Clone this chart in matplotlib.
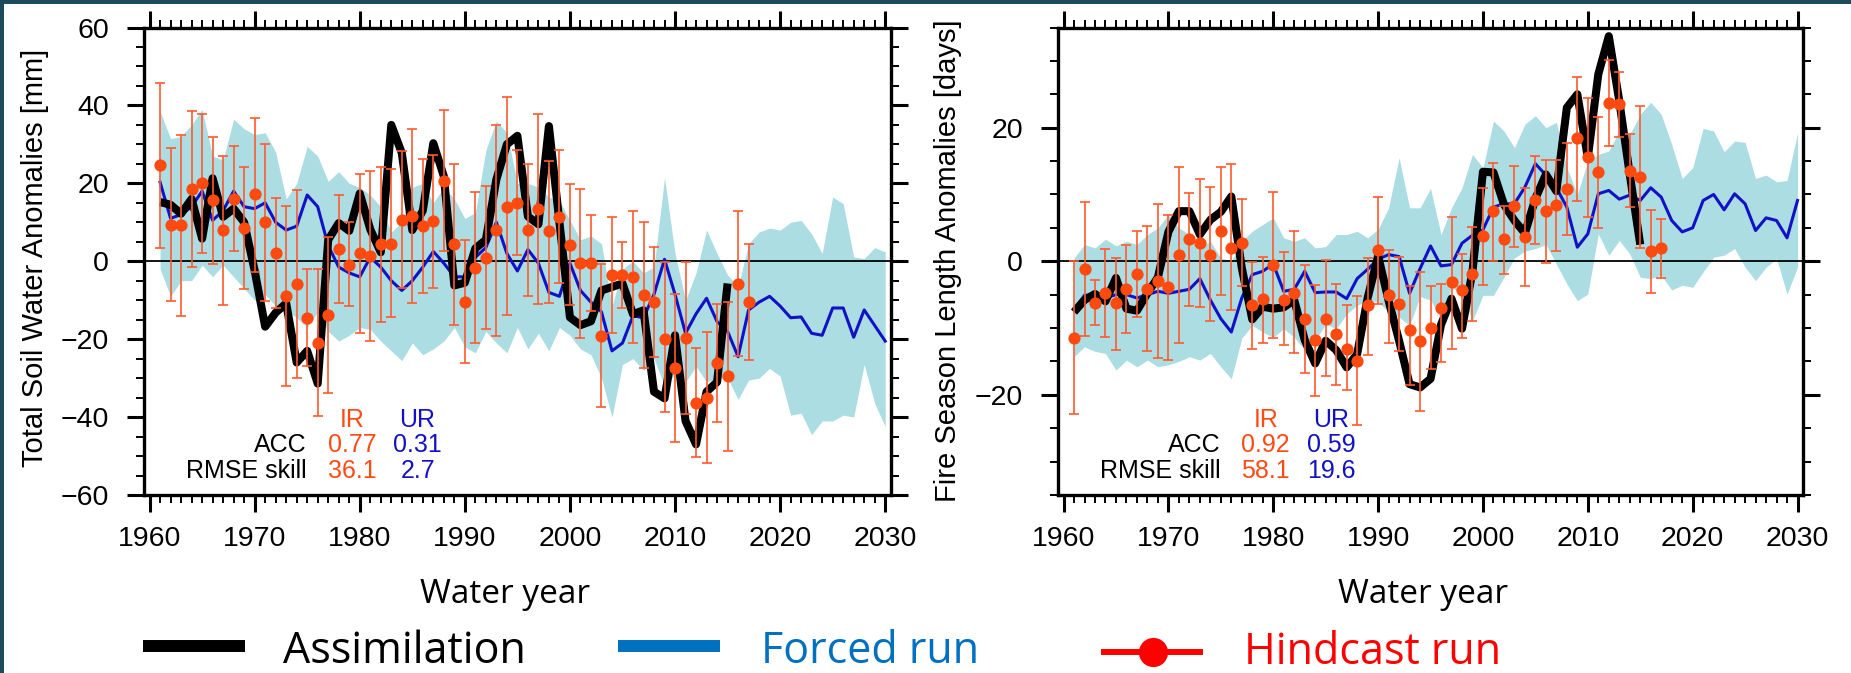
import numpy as np
import matplotlib
matplotlib.use("Agg")
import matplotlib.pyplot as plt
from matplotlib.lines import Line2D
from matplotlib.patches import Rectangle
from matplotlib.ticker import MultipleLocator

# ---------------- data ----------------
years_all = list(range(1961, 2031))      # forced run + spread
years_assim = list(range(1961, 2016))    # assimilation
years_hind = list(range(1961, 2018))     # hindcast

# Left panel: Total soil water anomalies [mm]
sw_assim = [15.2, 14.5, 12.2, 16.0, 5.8, 21.3, 11.4, 13.5, 10.0, -2.4,
            -16.8, -13.2, -10.8, -26.0, -23.0, -31.4, 5.5, 9.8, 7.8, 17.4,
            8.2, 2.3, 35.0, 27.8, 8.0, 13.0, 30.3, 21.8, -6.2, -5.5,
            3.3, 5.5, 21.0, 30.0, 32.2, 11.5, 9.5, 34.7, 10.0, -14.4,
            -16.4, -15.4, -7.5, -6.6, -5.7, -13.6, -12.6, -33.5, -35.2, -19.0,
            -41.0, -47.0, -33.5, -31.0, -5.7]
sw_hind = [24.6, 9.2, 9.2, 18.5, 20.0, 15.6, 7.9, 15.9, 8.5, 17.3,
           10.2, 2.1, -9.0, -5.8, -14.5, -20.9, -13.8, 3.2, -1.0, 2.0,
           1.4, 4.3, 4.5, 10.7, 11.5, 9.0, 10.3, 20.7, 4.3, -10.4,
           -1.8, 0.9, 7.9, 13.9, 15.0, 8.1, 13.5, 7.7, 11.4, 4.2,
           -0.5, -0.4, -19.2, -3.6, -3.6, -4.0, -8.7, -10.4, -20.0, -27.3,
           -19.8, -36.3, -35.0, -26.2, -29.5, -5.9, -10.4]
sw_hind_hi = [45.8, 29.1, 32.5, 38.5, 37.8, 31.8, 27.1, 29.5, 24.2, 36.8,
              30.2, 16.2, 14.1, 18.2, -2.1, -2.0, 6.2, 17.1, 10.1, 22.5,
              23.2, 24.2, 23.8, 28.3, 34.0, 26.3, 27.4, 38.9, 25.0, 5.4,
              17.8, 19.2, 35.0, 42.1, 28.5, 24.9, 37.7, 25.7, 28.5, 19.8,
              18.5, 12.0, -0.6, 11.4, 5.0, 12.8, 10.1, 3.7, -0.2, -8.5,
              -0.3, -22.2, -18.1, -11.1, -10.4, 12.8, 4.4]
sw_hind_lo = [3.5, -10.2, -14.1, -1.5, 2.0, -0.6, -11.3, 2.6, -7.1, -2.7,
              -10.3, -11.9, -32.1, -29.9, -26.9, -39.7, -33.9, -10.6, -11.5, -18.4,
              -20.4, -15.6, -14.4, -6.8, -10.7, -8.1, -6.8, 2.6, -16.4, -26.0,
              -21.1, -17.5, -19.1, -13.9, 1.5, -8.8, -10.9, -10.7, -5.6, -11.3,
              -19.6, -12.7, -37.5, -18.4, -12.0, -20.9, -27.5, -24.5, -38.8, -46.3,
              -39.2, -50.3, -51.9, -41.2, -48.6, -24.4, -25.4]
sw_forced = [20.3, 11.0, 12.0, 14.0, 18.0, 10.5, 13.0, 18.0, 14.0, 13.5,
             15.0, 10.0, 8.0, 9.0, 17.0, 14.0, 4.0, -1.5, -3.0, -4.0,
             1.0, -1.5, -5.0, -7.5, -5.0, -1.5, 2.5, -0.5, -4.0, -4.0,
             1.0, 3.5, 10.0, 2.0, -2.5, 3.0, -0.5, -8.0, -9.0, -0.5,
             -7.5, -10.5, -13.0, -23.0, -21.0, -14.0, -14.5, -8.5, 0.5, -8.5,
             -18.5, -13.5, -9.5, -15.5, -18.0, -24.5, -12.5, -10.5, -9.0, -11.5,
             -14.5, -14.3, -18.5, -19.0, -12.0, -12.0, -19.5, -12.5, -16.5, -20.5]
sw_spread_hi = [38.5, 31.5, 32.0, 35.0, 39.0, 27.0, 26.0, 36.5, 34.0, 32.5,
                33.0, 28.0, 16.0, 20.0, 29.5, 27.0, 20.5, 23.0, 20.0, 19.0,
                17.0, 14.0, 7.5, 10.0, 19.0, 20.0, 15.0, 19.0, 16.0, 11.0,
                12.5, 28.5, 36.0, 33.0, 20.0, 20.0, 19.0, 16.5, 15.5, 10.5,
                5.5, 6.5, 4.5, -11.5, -2.0, 0.0, -3.0, -1.5, 21.5, 2.0,
                -10.0, -3.0, 8.0, 2.0, -3.5, -6.5, 4.5, 7.5, 8.5, 8.0,
                10.0, 10.5, 7.0, 2.0, 16.5, 14.8, 1.1, 0.7, 3.5, 2.4]
sw_spread_lo = [-2.0, -9.0, -5.0, -5.0, -1.0, -4.0, -1.0, -4.0, -7.0, -10.0,
                -8.5, -11.5, -12.5, -14.5, -17.0, -13.0, -18.0, -20.5, -19.0, -17.0,
                -17.5, -20.5, -23.0, -25.5, -21.0, -24.0, -22.5, -20.5, -17.0, -22.0,
                -23.5, -18.0, -21.0, -23.5, -17.0, -22.5, -18.5, -23.0, -17.0, -19.0,
                -22.5, -24.0, -30.0, -40.0, -26.5, -25.0, -28.0, -25.0, -32.0, -29.0,
                -31.0, -27.0, -31.0, -30.0, -30.0, -35.5, -30.5, -30.0, -27.5, -29.5,
                -39.5, -39.0, -44.5, -41.0, -41.0, -39.5, -40.0, -26.5, -36.5, -42.5]

# Right panel: Fire season length anomalies [days]
fs_assim = [-7.6, -5.8, -4.9, -6.0, -2.5, -7.1, -7.4, -4.8, -2.4, 4.4,
            7.5, 7.5, 4.0, 6.2, 7.4, 9.7, -1.0, -8.7, -6.8, -7.1,
            -6.9, -5.8, -11.8, -15.3, -11.9, -13.3, -15.9, -13.9, -5.5, 0.8,
            -5.9, -11.9, -18.4, -18.9, -17.6, -9.5, -5.6, -10.1, -1.5, 13.4,
            13.3, 8.5, 6.1, 4.2, 9.4, 13.0, 10.5, 23.0, 25.0, 15.5,
            28.0, 33.7, 24.0, 13.0, 2.5]
fs_hind = [-11.45, -1.15, -6.25, -4.7, -6.25, -4.15, -1.95, -4.15, -2.95, -3.85,
           0.9, 3.3, 2.8, 1.0, 4.5, 2.0, 2.8, -6.6, -5.7, -0.6,
           -5.75, -4.7, -8.6, -11.85, -8.6, -10.95, -13.1, -15.0, -6.6, 1.65,
           -5.1, -6.35, -10.35, -11.95, -9.95, -6.95, -3.1, -4.3, -1.85, 3.75,
           7.5, 3.3, 8.25, 3.65, 9.15, 7.55, 8.4, 10.75, 18.4, 15.65,
           13.3, 23.75, 23.5, 13.5, 12.65, 1.5, 2.05]
fs_hind_hi = [0.0, 8.8, -2.85, 1.9, 0.55, 2.4, 4.55, 5.3, 8.55, 7.0,
              14.15, 10.15, 12.3, 11.15, 14.05, 14.5, 9.25, -0.1, 0.65, 10.3,
              1.4, 4.55, -0.6, -3.5, 0.15, -3.35, -6.6, -5.25, 0.5, 9.55,
              1.65, 0.65, -3.7, -1.6, -3.7, -3.4, 6.65, 1.15, 5.15, 10.9,
              14.75, 8.3, 14.3, 10.9, 15.75, 15.15, 15.15, 17.65, 27.55, 24.4,
              21.55, 30.15, 28.3, 19.0, 23.3, 7.65, 6.4]
fs_hind_lo = [-22.9, -11.2, -9.6, -11.35, -13.25, -10.7, -8.35, -13.45, -14.5, -14.85,
              -12.25, -6.75, -6.8, -9.0, -5.1, -7.35, -3.75, -13.1, -12.25, -11.45,
              -12.5, -13.75, -16.7, -20.25, -17.2, -18.6, -19.35, -24.45, -14.0, -6.45,
              -12.25, -13.45, -18.5, -22.35, -16.1, -15.1, -13.1, -11.5, -8.95, -3.6,
              0.0, -1.85, 2.15, -3.7, 2.55, -0.2, 1.55, 3.9, 9.05, 6.65,
              5.05, 17.25, 18.65, 8.05, 2.0, -4.75, -2.5]
fs_forced = [-7.3, -5.1, -5.0, -5.5, -5.0, -5.0, -5.5, -5.0, -4.5, -4.8,
             -4.5, -4.2, -2.6, -5.8, -8.6, -10.6, -5.5, -2.0, -1.5, -0.4,
             -4.5, -4.2, -1.5, -4.7, -4.6, -4.6, -5.6, -2.6, -1.2, 0.3,
             1.0, 0.7, -4.8, -1.1, 2.3, -0.7, -0.5, 2.7, 3.9, 4.7,
             8.1, 8.6, 8.6, 11.1, 14.6, 12.9, 11.0, 8.1, 2.1, 4.1,
             10.1, 10.6, 9.3, 9.9, 9.1, 11.0, 9.6, 6.1, 4.4, 5.0,
             9.1, 10.0, 7.7, 10.1, 8.6, 4.6, 6.5, 6.1, 3.5, 9.1]
fs_spread_hi = [0.5, 2.5, 2.0, 3.3, 2.3, 3.0, 2.5, 4.0, 5.0, 7.0,
                5.0, 4.0, 2.0, 3.0, 0.5, 0.0, 3.0, 4.5, 5.5, 6.5,
                3.5, 3.0, 3.5, 2.0, 2.2, 4.0, 4.0, 4.5, 3.5, 4.8,
                8.0, 15.5, 8.0, 8.0, 10.9, 4.0, 8.0, 11.0, 16.0, 14.0,
                21.0, 19.5, 17.0, 20.5, 21.8, 20.0, 20.8, 14.0, 10.0, 15.0,
                16.0, 16.5, 19.5, 19.0, 22.0, 23.8, 22.0, 17.5, 12.4, 14.0,
                19.9, 19.5, 16.4, 18.0, 17.8, 12.4, 12.9, 11.9, 12.1, 19.2]
fs_spread_lo = [-14.3, -12.8, -13.5, -13.8, -16.3, -14.8, -15.8, -14.8, -15.8, -15.5,
                -15.0, -14.3, -14.8, -13.8, -15.8, -17.6, -11.5, -9.6, -10.6, -11.4,
                -10.1, -11.4, -13.3, -11.9, -9.4, -10.1, -7.9, -6.6, -5.8, -6.1,
                -7.6, -8.4, -9.6, -5.3, -5.8, -8.6, -3.9, -4.9, -8.9, -5.1,
                -5.1, -2.4, 0.5, 1.5, 1.9, 2.5, -0.4, -3.4, -5.9, -4.9,
                4.1, 0.9, 3.1, 1.1, -2.4, -2.6, -2.1, -4.3, -3.6, -3.9,
                -1.6, 0.6, 0.9, 1.9, -0.9, -2.9, -0.9, 0.4, -4.9, -0.9]

stats_left = {"ACC": ("0.77", "0.31"), "RMSE skill": ("36.1", "2.7")}
stats_right = {"ACC": ("0.92", "0.59"), "RMSE skill": ("58.1", "19.6")}

ylabels = ["Total Soil Water Anomalies [mm]", "Fire Season Length Anomalies [days]"]
xlabel = "Water year"
legend_labels = ["Assimilation", "Forced run", "Hindcast run"]

# ---------------- style ----------------
W, H = 1851, 673
fig = plt.figure(figsize=(W / 100, H / 100), dpi=100)
fig.patch.set_facecolor("white")

C_SPREAD = "#ABDDE3"
C_FORCED = "#1212C4"
C_HIND = "#FF4A0F"
C_ERR = "#FF5A2E"
C_IR = "#FF4A14"
C_UR = "#1212C4"
TICKFONT = "Liberation Sans"
SLIDEFONT = "Open Sans"


def px2fig(x0, y0, x1, y1):
    return [x0 / W, 1 - y1 / H, (x1 - x0) / W, (y1 - y0) / H]


def panel(rect, assim, hind, hi, lo, forced, sp_hi, sp_lo, ylim, ymaj, stats):
    ax = fig.add_axes(rect)
    ax.fill_between(years_all, sp_lo, sp_hi, color=C_SPREAD, lw=0, zorder=1)
    ax.axhline(0, color="black", lw=1.3, zorder=1.5)
    ax.plot(years_all, forced, color=C_FORCED, lw=2.2, zorder=2)
    ax.plot(years_assim, assim, color="black", lw=5.8, zorder=3,
            solid_joinstyle="round", solid_capstyle="butt")
    h = np.array(hind)
    ax.errorbar(years_hind, h, yerr=[h - np.array(lo), np.array(hi) - h],
                fmt="none", ecolor=C_ERR, elinewidth=1.2, capsize=3.8,
                capthick=1.2, zorder=4)
    ax.plot(years_hind, h, "o", color=C_HIND, ms=8.8, mec="none", zorder=5)

    ax.set_xlim(1959.5, 2030.55)
    ax.set_ylim(*ylim)
    ax.xaxis.set_major_locator(MultipleLocator(10))
    ax.xaxis.set_minor_locator(MultipleLocator(1))
    ax.yaxis.set_major_locator(MultipleLocator(ymaj))
    ax.yaxis.set_minor_locator(MultipleLocator(5))
    ax.tick_params(which="both", direction="out", top=True, right=True,
                   labeltop=False, labelright=False)
    ax.tick_params(which="major", length=12.5, width=2.2)
    ax.tick_params(which="minor", length=6, width=1.4)
    ax.tick_params(axis="x", which="major", pad=10)
    ax.tick_params(axis="y", which="major", pad=13)
    for s in ax.spines.values():
        s.set_linewidth(2.4)
    for lab in ax.get_xticklabels() + ax.get_yticklabels():
        lab.set_fontfamily(TICKFONT)
        lab.set_fontsize(20.5)

    # statistics table
    kw = dict(transform=ax.transAxes, fontfamily=TICKFONT, fontsize=18, va="baseline")
    ax.text(0.2785, 0.1456, "IR", color=C_IR, ha="center", **kw)
    ax.text(0.3660, 0.1456, "UR", color=C_UR, ha="center", **kw)
    for (name, (ir, ur)), yb in zip(stats.items(), [0.0921, 0.0364]):
        ax.text(0.2175, yb, name, color="black", ha="right", **kw)
        ax.text(0.2785, yb, ir, color=C_IR, ha="center", **kw)
        ax.text(0.3660, yb, ur, color=C_UR, ha="center", **kw)
    return ax


ax1 = panel(px2fig(144.3, 27.5, 891, 495), sw_assim, sw_hind, sw_hind_hi, sw_hind_lo,
            sw_forced, sw_spread_hi, sw_spread_lo, (-60, 60), 20, stats_left)
ax2 = panel(px2fig(1058.3, 27.5, 1803.3, 495), fs_assim, fs_hind, fs_hind_hi, fs_hind_lo,
            fs_forced, fs_spread_hi, fs_spread_lo, (-35, 35), 20, stats_right)

# y labels
fig.text(35 / W, 1 - 257.5 / H, ylabels[0], rotation=90, ha="center", va="center",
         fontfamily=TICKFONT, fontsize=21)
fig.text(948 / W, 1 - 260.5 / H, ylabels[1], rotation=90, ha="center", va="center",
         fontfamily=TICKFONT, fontsize=21)

# x labels
for xc in (505.5, 1423):
    fig.text(xc / W, 1 - 602.7 / H, xlabel, ha="center", va="baseline",
             fontfamily=SLIDEFONT, fontsize=24, color="black")

# legend (slide style)
leg_colors = ["black", "#0070C0", "#FF0000"]
fig.add_artist(Line2D([142.7 / W, 245 / W], [1 - 646 / H] * 2, color=leg_colors[0],
                      lw=8.6, solid_capstyle="butt", transform=fig.transFigure))
fig.add_artist(Line2D([618 / W, 720 / W], [1 - 646 / H] * 2, color=leg_colors[1],
                      lw=8.6, solid_capstyle="butt", transform=fig.transFigure))
fig.add_artist(Line2D([1101 / W, 1203 / W], [1 - 652 / H] * 2, color=leg_colors[2],
                      lw=4.3, solid_capstyle="butt", transform=fig.transFigure))
fig.add_artist(Line2D([1153 / W], [1 - 652 / H], color=leg_colors[2], marker="o",
                      ms=21, mec="none", lw=0, transform=fig.transFigure))
for x0, yb, txt, c in [(283, 663, legend_labels[0], leg_colors[0]),
                       (761, 663.3, legend_labels[1], leg_colors[1]),
                       (1244, 663.5, legend_labels[2], leg_colors[2])]:
    fig.text(x0 / W, 1 - yb / H, txt, ha="left", va="baseline",
             fontfamily=SLIDEFONT, fontsize=31, color=c)

# slide border strips
fig.add_artist(Rectangle((0, 1 - 4 / H), 1, 4 / H, transform=fig.transFigure,
                         color="#1D4B5C", lw=0))
fig.add_artist(Rectangle((0, 0), 4 / W, 1, transform=fig.transFigure,
                         color="#1D4B5C", lw=0))

fig.savefig("out.png", dpi=100, facecolor="white")
